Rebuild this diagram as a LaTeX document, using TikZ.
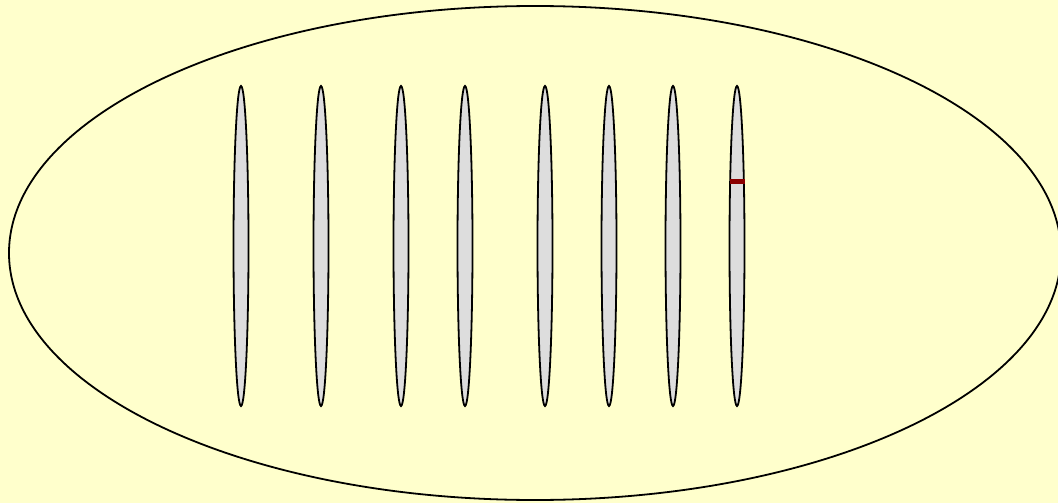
\documentclass[tikz,border=0pt]{standalone}
\usetikzlibrary{shapes.geometric}
\definecolor{bgyellow}{HTML}{FFFFCC}
\definecolor{lensgray}{HTML}{DDDDDD}
\definecolor{markred}{HTML}{8B0000}
\begin{document}
\begin{tikzpicture}[x=1pt,y=-1pt,
  outer/.style={ellipse,draw=black,line width=1.8pt,minimum width=1052pt,minimum height=494pt,inner sep=0pt},
  lens/.style={ellipse,draw=black,fill=lensgray,line width=1.8pt,minimum width=15pt,minimum height=320pt,inner sep=0pt},
  marker/.style={draw=markred,line width=4.5pt}]
\fill[bgyellow] (0,0) rectangle (1058,503);
\useasboundingbox (0,0) rectangle (1058,503);
\clip (0,0) rectangle (1058,503);
\node[outer] (body) at (535,253) {};
\foreach \i/\x in {1/241,2/321,3/401,4/465,5/545,6/609,7/673,8/737}{
  \node[lens] (l\i) at (\x,246) {};
}
\coordinate (mL) at (729.5,181.5);
\coordinate (mR) at (744.5,181.5);
\draw[marker] (mL) -- (mR);
\end{tikzpicture}
\end{document}
